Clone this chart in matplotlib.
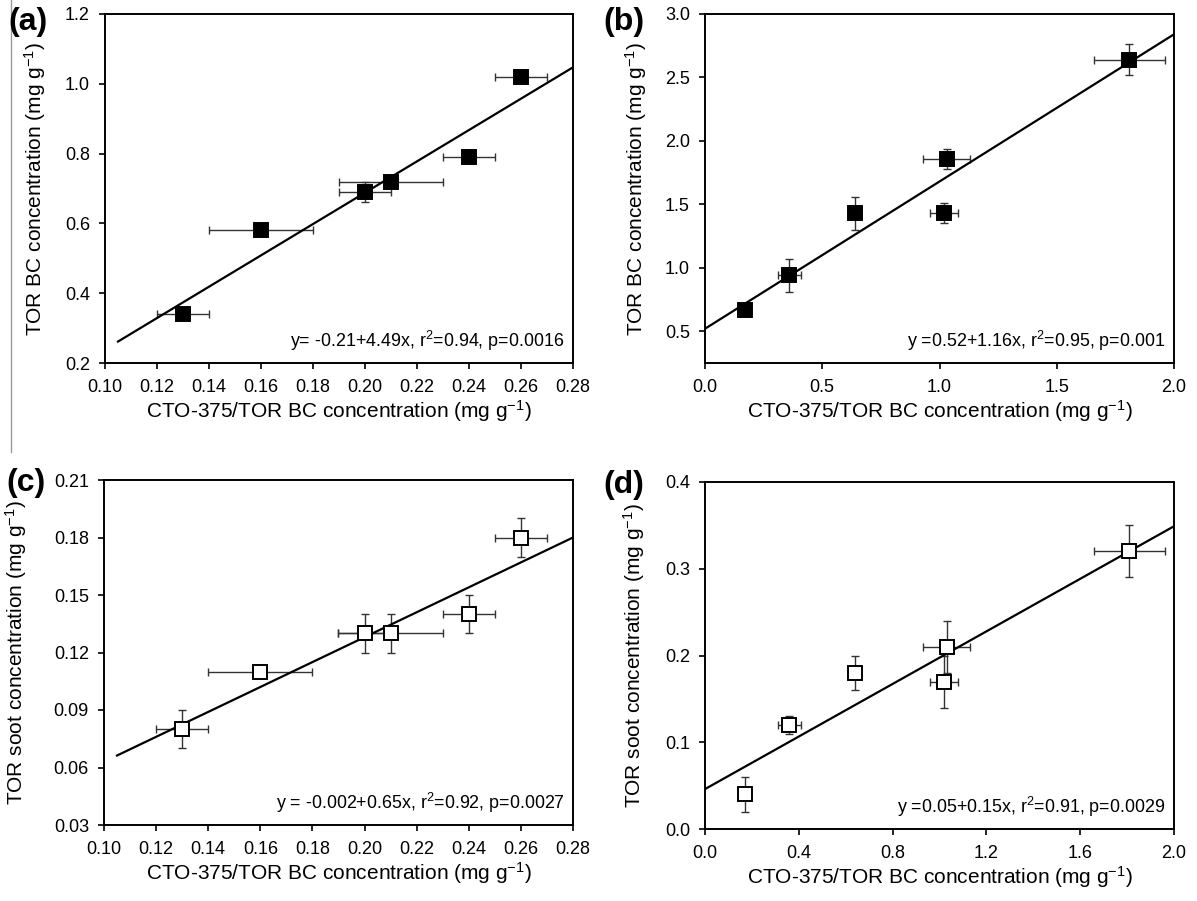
import matplotlib
matplotlib.use("Agg")
import matplotlib.pyplot as plt
from matplotlib.lines import Line2D

plt.rcParams["font.family"] = ["Liberation Sans", "DejaVu Sans"]
plt.rcParams["mathtext.default"] = "regular"

# 数据:左列 x 为 0.10-0.28 轴, 右列 x 为 0-2.0 轴
xa = [0.13, 0.16, 0.20, 0.21, 0.24, 0.26]
xa_err = [0.01, 0.02, 0.01, 0.02, 0.01, 0.01]
ya = [0.34, 0.58, 0.69, 0.72, 0.79, 1.02]
ya_err = [0.01, 0.01, 0.03, 0.01, 0.01, 0.01]
fit_a = (-0.21, 4.49)

xb = [0.17, 0.36, 0.64, 1.02, 1.03, 1.81]
xb_err = [0.0, 0.05, 0.0, 0.06, 0.10, 0.15]
yb = [0.67, 0.94, 1.43, 1.43, 1.86, 2.64]
yb_err = [0.0, 0.13, 0.13, 0.08, 0.08, 0.12]
fit_b = (0.52, 1.16)

yc = [0.08, 0.11, 0.13, 0.13, 0.14, 0.18]
yc_err = [0.01, 0.0, 0.01, 0.01, 0.01, 0.01]
fit_c = (-0.002, 0.65)

yd = [0.04, 0.12, 0.18, 0.17, 0.21, 0.32]
yd_err = [0.02, 0.01, 0.02, 0.03, 0.03, 0.03]
fit_d = (0.046, 0.1515)

W, H = 1197, 901
fig = plt.figure(figsize=(W / 100, H / 100), dpi=100)


def box(l, r, t, b):
    return [l / W, 1 - b / H, (r - l) / W, (b - t) / H]


def panel(rect, x, xe, y, ye, fit, xr, xlim, ylim, xt, yt, fmtx, fmty, filled, ylab, ylx, txt, tag, tagpos):
    ax = fig.add_axes(rect)
    ax.errorbar(x, y, xerr=xe, yerr=ye, fmt="none", ecolor="0.2", elinewidth=1.0, capsize=3, capthick=1.0, zorder=2)
    ax.plot(xr, [fit[0] + fit[1] * v for v in xr], color="black", lw=1.6, zorder=3)
    ax.plot(x, y, ls="none", marker="s", ms=10.5, mfc="black" if filled else "white",
            mec="black", mew=1.4, zorder=4)
    ax.set_xlim(*xlim); ax.set_ylim(*ylim)
    ax.set_xticks(xt); ax.set_yticks(yt)
    ax.set_xticklabels([fmtx % v for v in xt]); ax.set_yticklabels([fmty % v for v in yt])
    ax.tick_params(direction="out", length=4.3, width=1.2, labelsize=13)
    ax.tick_params(axis="x", pad=7.5)
    ax.tick_params(axis="y", pad=6.5)
    for s in ax.spines.values():
        s.set_linewidth(1.4)
    ax.set_xlabel("CTO-375/TOR BC concentration (mg g$^{-1}$)", fontsize=15, labelpad=1)
    ax.set_ylabel(ylab, fontsize=15)
    ax.yaxis.set_label_coords(ylx, 0.5)
    ax.text(0.982, 0.03, txt, transform=ax.transAxes, ha="right", va="bottom", fontsize=12.9)
    fig.text(tagpos[0] / W, 1 - tagpos[1] / H, tag, fontsize=23, fontweight="bold", ha="left", va="top")
    return ax


panel(box(105, 573, 14, 363), xa, xa_err, ya, ya_err, fit_a, [0.105, 0.28], (0.10, 0.28), (0.2, 1.2),
      [0.10, 0.12, 0.14, 0.16, 0.18, 0.20, 0.22, 0.24, 0.26, 0.28], [0.2, 0.4, 0.6, 0.8, 1.0, 1.2],
      "%.2f", "%.1f", True, "TOR BC concentration (mg g$^{-1}$)", -0.122,
      "y= -0.21+4.49x, r$^2$=0.94, p=0.0016", "(a)", (8, 7))
panel(box(705, 1174, 14, 363), xb, xb_err, yb, yb_err, fit_b, [0.0, 2.0], (0.0, 2.0), (0.25, 3.0),
      [0.0, 0.5, 1.0, 1.5, 2.0], [0.5, 1.0, 1.5, 2.0, 2.5, 3.0],
      "%.1f", "%.1f", True, "TOR BC concentration (mg g$^{-1}$)", -0.120,
      "y =0.52+1.16x, r$^2$=0.95, p=0.001", "(b)", (603, 7))
panel(box(104, 573, 480, 825), xa, xa_err, yc, yc_err, fit_c, [0.105, 0.28], (0.10, 0.28), (0.03, 0.21),
      [0.10, 0.12, 0.14, 0.16, 0.18, 0.20, 0.22, 0.24, 0.26, 0.28], [0.03, 0.06, 0.09, 0.12, 0.15, 0.18, 0.21],
      "%.2f", "%.2f", False, "TOR soot concentration (mg g$^{-1}$)", -0.159,
      "y = -0.002+0.65x, r$^2$=0.92, p=0.0027", "(c)", (6, 468))
panel(box(705, 1174, 482, 829), xb, xb_err, yd, yd_err, fit_d, [0.0, 2.0], (0.0, 2.0), (0.0, 0.4),
      [0.0, 0.4, 0.8, 1.2, 1.6, 2.0], [0.0, 0.1, 0.2, 0.3, 0.4],
      "%.1f", "%.1f", False, "TOR soot concentration (mg g$^{-1}$)", -0.124,
      "y =0.05+0.15x, r$^2$=0.91, p=0.0029", "(d)", (603, 470))

# 左侧细竖线(原图扫描痕迹)
fig.add_artist(Line2D([11 / W, 11 / W], [1 - 452 / H, 1.0], transform=fig.transFigure, color="0.6", lw=1))

fig.savefig("out.png", dpi=100, facecolor="white")
